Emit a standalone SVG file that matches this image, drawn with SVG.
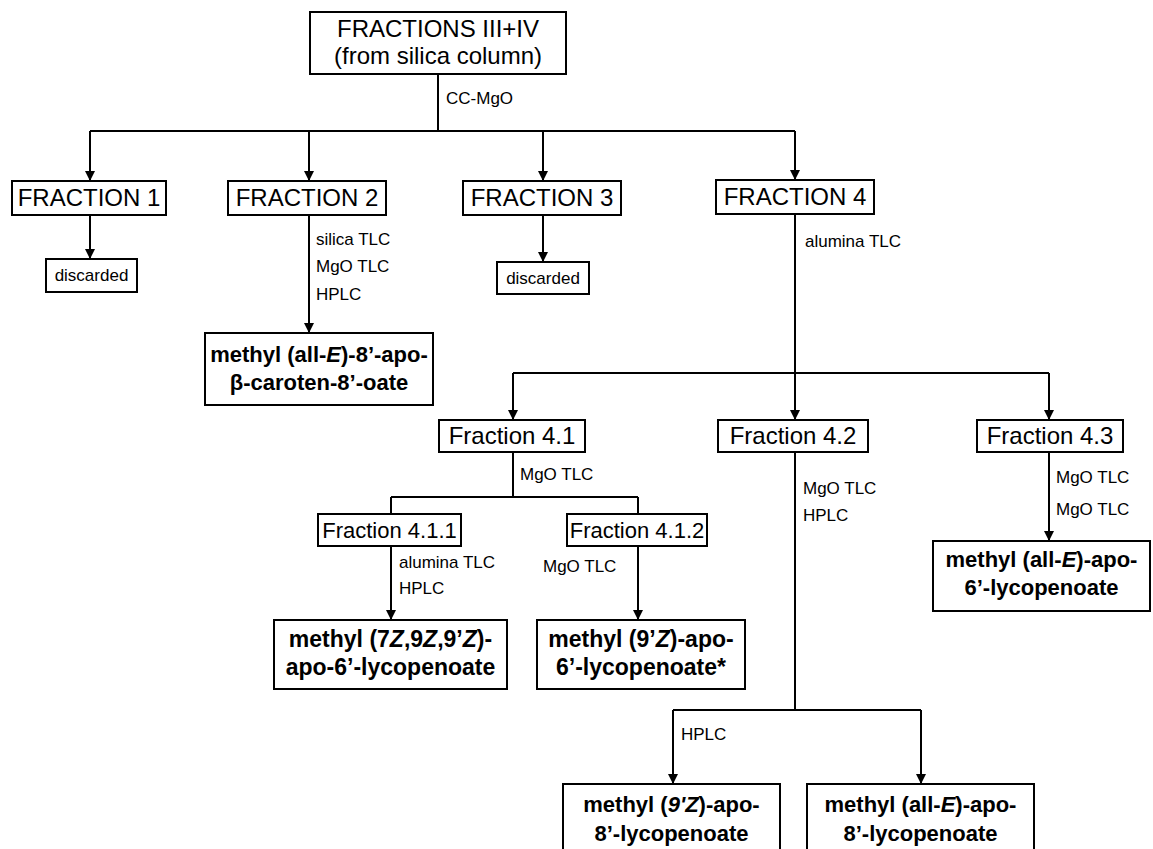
<svg xmlns="http://www.w3.org/2000/svg" width="1153" height="849" viewBox="0 0 1153 849">
<style>
.bg{fill:#fff}
.box{fill:#fff;stroke:#000;stroke-width:2}
.ln{fill:none;stroke:#000;stroke-width:2}
text{font-family:"Liberation Sans",Arial,Helvetica,sans-serif;fill:#000}
.t{font-size:24px;text-anchor:middle}
.t2{font-size:22px;text-anchor:middle}
.d{font-size:17px;text-anchor:middle}
.s{font-size:17px}
.b{font-size:22px;font-weight:bold;text-anchor:middle}
.b3{font-size:23px}
.i{font-style:italic}
</style>
<defs>
<marker id="ar" markerUnits="userSpaceOnUse" markerWidth="10" markerHeight="10" refX="5" refY="10" orient="0" viewBox="0 0 10 10">
<path d="M0,0 L10,0 L5,10 z" fill="#000"/>
</marker>
</defs>
<rect class="bg" x="0" y="0" width="1153" height="849"/>

<g id="connectors">
<path class="ln" d="M438,74 V131 M90,131 H795"/>
<path class="ln" d="M90,131 V181" marker-end="url(#ar)"/>
<path class="ln" d="M309,131 V181" marker-end="url(#ar)"/>
<path class="ln" d="M543,131 V181" marker-end="url(#ar)"/>
<path class="ln" d="M795,131 V180" marker-end="url(#ar)"/>
<path class="ln" d="M90,215 V259" marker-end="url(#ar)"/>
<path class="ln" d="M543,215 V262" marker-end="url(#ar)"/>
<path class="ln" d="M309,215 V333" marker-end="url(#ar)"/>
<path class="ln" d="M795,214 V373 M513,373 H1049"/>
<path class="ln" d="M513,373 V420" marker-end="url(#ar)"/>
<path class="ln" d="M795,373 V420" marker-end="url(#ar)"/>
<path class="ln" d="M1049,373 V420" marker-end="url(#ar)"/>
<path class="ln" d="M513,452 V497 M391,497 H638 M391,497 V514 M638,497 V514"/>
<path class="ln" d="M391,546 V620" marker-end="url(#ar)"/>
<path class="ln" d="M638,546 V620" marker-end="url(#ar)"/>
<path class="ln" d="M795,452 V710 M673,710 H921"/>
<path class="ln" d="M673,710 V784" marker-end="url(#ar)"/>
<path class="ln" d="M921,710 V784" marker-end="url(#ar)"/>
<path class="ln" d="M1049,452 V541" marker-end="url(#ar)"/>
<text class="s" x="446" y="104">CC-MgO</text>
<text class="s" x="316" y="245">silica TLC</text>
<text class="s" x="316" y="272">MgO TLC</text>
<text class="s" x="316" y="300">HPLC</text>
<text class="s" x="805" y="247">alumina TLC</text>
<text class="s" x="520" y="480">MgO TLC</text>
<text class="s" x="399" y="568">alumina TLC</text>
<text class="s" x="399" y="594">HPLC</text>
<text class="s" x="543" y="572">MgO TLC</text>
<text class="s" x="803" y="494">MgO TLC</text>
<text class="s" x="803" y="521">HPLC</text>
<text class="s" x="681" y="740">HPLC</text>
<text class="s" x="1056" y="483">MgO TLC</text>
<text class="s" x="1056" y="515">MgO TLC</text>
</g>

<g id="n-top">
<rect class="box" x="310" y="12" width="256" height="62"/>
<text class="t" x="438" y="37">FRACTIONS III+IV</text>
<text class="t" x="438" y="64">(from silica column)</text>
</g>
<g id="n-f1"><rect class="box" x="12" y="181" width="154" height="34"/><text class="t" x="89" y="206">FRACTION 1</text></g>
<g id="n-f2"><rect class="box" x="228" y="181" width="158" height="34"/><text class="t" x="307" y="206">FRACTION 2</text></g>
<g id="n-f3"><rect class="box" x="463" y="181" width="158" height="34"/><text class="t" x="542" y="206">FRACTION 3</text></g>
<g id="n-f4"><rect class="box" x="716" y="180" width="158" height="34"/><text class="t" x="795" y="205">FRACTION 4</text></g>
<g id="n-d1"><rect class="box" x="46" y="259" width="91" height="33"/><text class="d" x="91.5" y="281">discarded</text></g>
<g id="n-d3"><rect class="box" x="497" y="262" width="92" height="32"/><text class="d" x="543" y="284">discarded</text></g>
<g id="n-r2">
<rect class="box" x="205" y="333" width="228" height="72"/>
<text class="b" x="319" y="362">methyl (all-<tspan class="i">E</tspan>)-8’-apo-</text>
<text class="b" x="319" y="390">β-caroten-8’-oate</text>
</g>
<g id="n-f41"><rect class="box" x="439" y="420" width="146" height="32"/><text class="t" x="512" y="444">Fraction 4.1</text></g>
<g id="n-f42"><rect class="box" x="718" y="420" width="150" height="32"/><text class="t" x="793" y="444">Fraction 4.2</text></g>
<g id="n-f43"><rect class="box" x="977" y="420" width="146" height="32"/><text class="t" x="1050" y="444">Fraction 4.3</text></g>
<g id="n-f411"><rect class="box" x="318" y="514" width="143" height="32"/><text class="t2" x="389.5" y="538">Fraction 4.1.1</text></g>
<g id="n-f412"><rect class="box" x="567" y="514" width="140" height="32"/><text class="t2" x="637" y="538">Fraction 4.1.2</text></g>
<g id="n-r411">
<rect class="box" x="274" y="620" width="233" height="69"/>
<text class="b b3" x="390.5" y="647">methyl (7<tspan class="i">Z</tspan>,9<tspan class="i">Z</tspan>,9’<tspan class="i">Z</tspan>)-</text>
<text class="b b3" x="390.5" y="675">apo-6’-lycopenoate</text>
</g>
<g id="n-r412">
<rect class="box" x="537" y="620" width="208" height="69"/>
<text class="b b3" x="641" y="647">methyl (9’<tspan class="i">Z</tspan>)-apo-</text>
<text class="b b3" x="641" y="675">6’-lycopenoate*</text>
</g>
<g id="n-r43">
<rect class="box" x="933" y="541" width="217" height="70"/>
<text class="b" x="1041.5" y="567">methyl (all-<tspan class="i">E</tspan>)-apo-</text>
<text class="b" x="1041.5" y="595">6’-lycopenoate</text>
</g>
<g id="n-r42a">
<rect class="box" x="563" y="784" width="217" height="80"/>
<text class="b" x="671.5" y="812">methyl (<tspan class="i">9'Z</tspan>)-apo-</text>
<text class="b" x="671.5" y="841">8’-lycopenoate</text>
</g>
<g id="n-r42b">
<rect class="box" x="807" y="784" width="227" height="80"/>
<text class="b" x="920.5" y="812">methyl (all-<tspan class="i">E</tspan>)-apo-</text>
<text class="b" x="920.5" y="841">8’-lycopenoate</text>
</g>
</svg>
